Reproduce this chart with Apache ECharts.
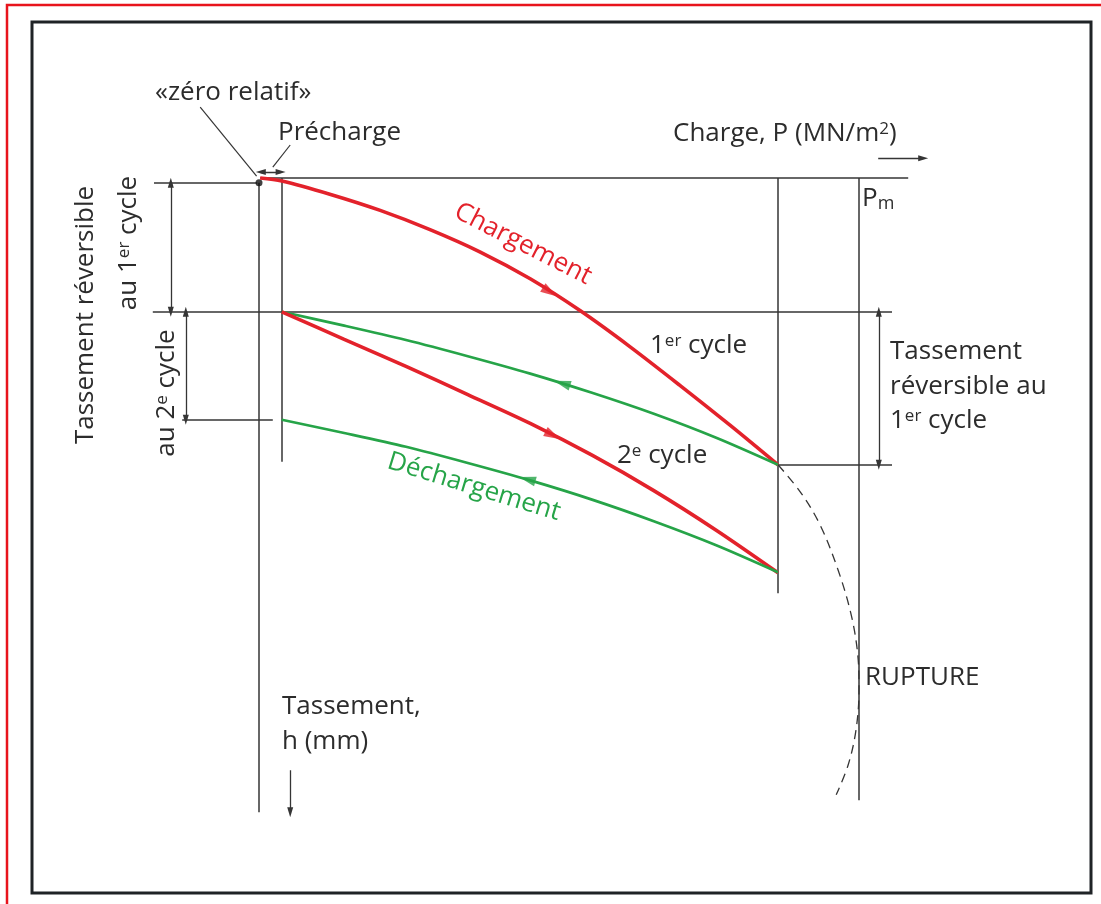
<!DOCTYPE html>
<html>
<head>
<meta charset="utf-8">
<title>Tassement - cycles de chargement</title>
<script src="https://cdn.jsdelivr.net/npm/echarts@6/dist/echarts.min.js"></script>
<style>
  html, body { margin: 0; padding: 0; background: #fff; }
  #chart { width: 1101px; height: 904px; }
</style>
</head>
<body>
<div id="chart"></div>
<script>
// schéma : charge P (Pm = 100) vers la droite, tassement h vers le bas (unités du dessin)
const loading1P = [0.2, 3.8, 11.8, 20.2, 28.5, 36.8, 45.2, 53.5, 61.8, 70.2, 78.5, 86.5];
const loading1H = [0, 0.5, 2.7, 5.4, 8.6, 12.3, 16.8, 22.1, 28.1, 34.6, 41.2, 47.8];

const unload1P = [86.5, 76.2, 65.8, 55.5, 45.2, 34.8, 24.5, 14.2, 3.8];
const unload1H = [47.8, 43.3, 39.3, 35.8, 32.6, 29.7, 27.0, 24.6, 22.3];

const loading2P = [3.8, 14.2, 24.5, 34.8, 45.2, 55.5, 65.8, 76.2, 86.5];
const loading2H = [22.3, 26.9, 31.4, 36.1, 40.9, 46.2, 52.1, 58.7, 65.8];

const unload2P = [86.5, 76.2, 65.8, 55.5, 45.2, 34.8, 24.5, 14.2, 3.8];
const unload2H = [65.7, 61.2, 57.2, 53.6, 50.4, 47.5, 44.8, 42.5, 40.3];

const ruptureP = [86.5, 90.2, 93.5, 96.5, 98.7, 99.8, 100.0, 99.5, 98.2, 96.2];
const ruptureH = [47.8, 52.3, 57.8, 65.3, 72.8, 79.5, 85.3, 92.0, 97.8, 102.8];

// flèches de sens sur les courbes (chargement 1, déchargement 1, chargement 2, déchargement 2)
const arrowP = [48.5, 50.5, 49.0, 44.7];
const arrowH = [19.0, 34.2, 42.9, 50.2];

// traits de construction
const hLineH = [0, 0.8, 22.3, 40.3, 47.8];
const hLineFrom = [0.2, -17.5, -17.7, -12.8, 86.5];
const hLineTo = [108.2, -0.3, 105.5, 2.3, 105.5];

const vLineP = [0, 3.8, 86.5, 100];
const vLineFrom = [0.8, 0, 0, 0];
const vLineTo = [105.7, 47.3, 69.2, 103.7];

// cotes (flèches aux deux bouts)
const dimP = [-14.7, -12.2, 103.3];
const dimFrom = [0.8, 22.3, 22.3];
const dimTo = [22.3, 40.3, 47.8];
const prechargeDim = [[0.3, -1.0], [3.6, -1.0]];

// axes fléchés et renvois
const chargeArrow = [[103.2, -3.3], [110.7, -3.3]];
const tassementArrow = [[5.2, 98.7], [5.2, 105.7]];
const zeroLeader = [[-9.8, -11.8], [-0.4, -0.3]];
const prechargeLeader = [[5.2, -5.5], [2.3, -1.8]];
const zeroPoint = [0, 0.8];

const RED = '#e3222b';
const GREEN = '#26a448';
const INK = '#353535';
const TXT = '#2c2c2c';
const FONT = '"Open Sans", "Noto Sans", sans-serif';

function zip(a, b) { return a.map((v, i) => [v, b[i]]); }

const curves = [
  { P: loading1P, H: loading1H, color: RED, width: 3.6 },
  { P: unload1P, H: unload1H, color: GREEN, width: 2.7 },
  { P: loading2P, H: loading2H, color: RED, width: 3.6 },
  { P: unload2P, H: unload2H, color: GREEN, width: 2.7 }
];

// sens local de la courbe au droit de chaque flèche
function arrowRotate(c, p) {
  let dx = c.P[c.P.length - 1] - c.P[0], dy = c.H[c.H.length - 1] - c.H[0];
  for (let i = 0; i < c.P.length - 1; i++) {
    const a = c.P[i], b = c.P[i + 1];
    if ((p - a) * (p - b) <= 0) { dx = b - a; dy = c.H[i + 1] - c.H[i]; break; }
  }
  return Math.atan2(-dx, -dy) * 180 / Math.PI;
}

const arrowData = curves.map((c, i) => ({
  value: [arrowP[i], arrowH[i]],
  symbolRotate: arrowRotate(c, arrowP[i]),
  itemStyle: { color: c.color }
}));

const guideData = [];
hLineH.forEach((h, i) => guideData.push({ coords: [[hLineFrom[i], h], [hLineTo[i], h]] }));
vLineP.forEach((p, i) => guideData.push({ coords: [[p, vLineFrom[i]], [p, vLineTo[i]]] }));

const dimData = dimP.map((p, i) => ({ coords: [[p, dimFrom[i]], [p, dimTo[i]]] }));

function txt(x, y, text, extra) {
  const o = extra || {};
  return {
    type: 'text', x: x, y: y, rotation: o.rotation || 0,
    style: {
      text: text, fill: o.fill || TXT, fontSize: o.size || 26, fontFamily: FONT,
      align: o.align || 'left', verticalAlign: 'middle',
      rich: {
        sup: { fontSize: 17, fontFamily: FONT, fill: o.fill || TXT, verticalAlign: 'top' },
        sub: { fontSize: 18, fontFamily: FONT, fill: o.fill || TXT, verticalAlign: 'bottom', padding: [10, 0, 0, 0] }
      }
    }
  };
}

const chart = echarts.init(document.getElementById('chart'), null, { renderer: 'canvas' });

const option = {
  animation: false,
  backgroundColor: '#ffffff',
  grid: { left: 19, top: 58, width: 1080, height: 840 },
  xAxis: { type: 'value', min: -40, max: 140, show: false },
  yAxis: { type: 'value', min: -20, max: 120, inverse: true, show: false },
  graphic: [
    { type: 'rect', shape: { x: 7, y: 5, width: 1120, height: 940 }, style: { fill: 'none', stroke: '#e8141c', lineWidth: 2.5 } },
    { type: 'rect', shape: { x: 32, y: 22, width: 1059, height: 871 }, style: { fill: 'none', stroke: '#1f2326', lineWidth: 3 } },
    txt(155, 93, '«zéro relatif»'),
    txt(278, 133, 'Précharge'),
    txt(673, 134, 'Charge, P (MN/m{sup|2})'),
    txt(862, 199, 'P{sub|m}'),
    txt(523, 244, 'Chargement', { fill: RED, align: 'center', rotation: -27 * Math.PI / 180 }),
    txt(650, 346, '1{sup|er} cycle'),
    txt(617, 456, '2{sup|e} cycle'),
    txt(474, 487, 'Déchargement', { fill: GREEN, align: 'center', rotation: -17 * Math.PI / 180 }),
    txt(890, 352, 'Tassement'),
    txt(890, 387, 'réversible au'),
    txt(890, 421, '1{sup|er} cycle'),
    txt(865, 678, 'RUPTURE'),
    txt(282, 707, 'Tassement,'),
    txt(282, 742, 'h (mm)'),
    txt(86, 315, 'Tassement réversible', { align: 'center', rotation: Math.PI / 2 }),
    txt(129, 243, 'au 1{sup|er} cycle', { align: 'center', rotation: Math.PI / 2 }),
    txt(167, 393, 'au 2{sup|e} cycle', { align: 'center', rotation: Math.PI / 2 })
  ],
  series: [
    {
      type: 'lines', coordinateSystem: 'cartesian2d', silent: true,
      lineStyle: { color: INK, width: 1.5, opacity: 1 },
      data: guideData
    },
    {
      type: 'lines', coordinateSystem: 'cartesian2d', silent: true,
      lineStyle: { color: INK, width: 1.2, opacity: 1 },
      data: [{ coords: zeroLeader }, { coords: prechargeLeader }]
    },
    {
      type: 'lines', coordinateSystem: 'cartesian2d', silent: true,
      symbol: ['triangle', 'triangle'], symbolSize: [[6, 10], [6, 10]],
      lineStyle: { color: INK, width: 1.3, opacity: 1 },
      itemStyle: { color: INK },
      data: dimData.concat([{ coords: prechargeDim }])
    },
    {
      type: 'lines', coordinateSystem: 'cartesian2d', silent: true,
      symbol: ['none', 'triangle'], symbolSize: [[6, 10], [6, 10]],
      lineStyle: { color: INK, width: 1.3, opacity: 1 },
      data: [{ coords: chargeArrow }, { coords: tassementArrow }]
    },
    {
      type: 'line', smooth: 0.35, symbol: 'none', clip: false, silent: true,
      lineStyle: { color: INK, width: 1.3, type: [9, 6] },
      data: zip(ruptureP, ruptureH)
    }
  ].concat(curves.map(c => ({
    type: 'line', smooth: 0.3, symbol: 'none', clip: false, silent: true,
    lineStyle: { color: c.color, width: c.width },
    data: zip(c.P, c.H)
  }))).concat([
    {
      type: 'scatter', symbol: 'triangle', symbolSize: [10, 17], silent: true,
      data: arrowData
    },
    {
      type: 'scatter', symbol: 'circle', symbolSize: 7, silent: true,
      itemStyle: { color: '#111' },
      data: [zeroPoint]
    }
  ])
};

chart.setOption(option);
window.addEventListener('resize', function () { chart.resize(); });
</script>
</body>
</html>
